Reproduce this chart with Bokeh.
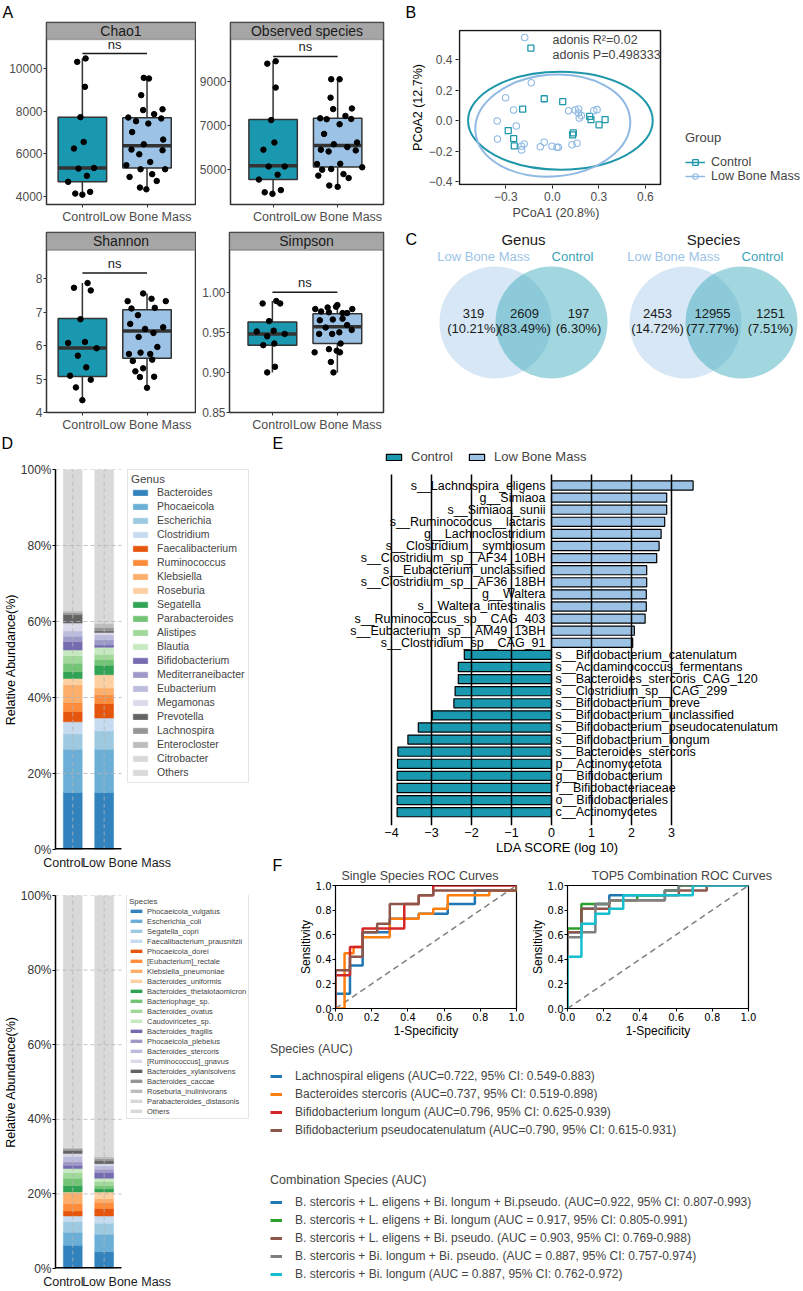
import numpy as np
from bokeh.plotting import figure
from bokeh.models import (Range1d, FixedTicker, Label, BoxAnnotation, Legend,
                          LegendItem, ColumnDataSource, Title)
from bokeh.layouts import row, column
from bokeh.core.properties import value
from bokeh.embed import file_html
from bokeh.resources import INLINE

FONT = "Liberation Sans"
MPLF = "DejaVu Sans"
C_CTRL = "#1a98b0"
C_LBM = "#9cc3e6"
DARK = "#333333"
TICKC = "#4d4d4d"

groups = ["Control", "Low Bone Mass"]
panel_letters = ["A", "B", "C", "D", "E", "F"]

# ---------------- A : alpha diversity ----------------
chao1_ctrl = [10310, 10470, 9140, 7720, 6250, 6560, 5310, 5340, 4970, 4690, 4140, 4090, 4220]
chao1_ctrl_jit = [-0.08, 0.05, 0.04, -0.03, -0.13, 0.02, -0.06, 0.18, 0.07, -0.22, -0.11, 0.0, 0.12]
chao1_lbm = [9560, 9530, 8750, 8050, 8090, 7860, 7700, 7530, 7420, 7660, 7020, 6450, 6670, 6200,
             5980, 6170, 5470, 5620, 5280, 5280, 4920, 5050, 4730, 4420, 4340]
chao1_lbm_jit = [-0.05, 0.03, -0.09, -0.06, 0.24, 0.11, -0.29, -0.17, 0.02, 0.22, -0.23, -0.05, 0.25,
                 -0.24, -0.12, 0.24, -0.32, 0.05, -0.10, 0.28, -0.27, 0.08, 0.15, -0.11, -0.01]
chao1_box_ctrl = [4090, 4690, 5340, 7720, 10470]
chao1_box_lbm = [4340, 5340, 6380, 7690, 9560]

obs_ctrl = [9830, 9940, 8740, 7260, 5910, 6240, 5150, 5150, 4770, 4550, 3970, 3900, 4070]
obs_ctrl_jit = [-0.09, 0.04, 0.04, -0.03, -0.15, 0.02, -0.07, 0.18, 0.07, -0.22, -0.13, -0.01, 0.12]
obs_lbm = [9120, 9120, 8280, 7760, 7790, 7340, 7300, 7450, 7070, 7310, 6630, 6160, 6240, 5910,
           5830, 6030, 5880, 5260, 5270, 5110, 5000, 5030, 4800, 4620, 4730, 4280, 4220]
obs_lbm_jit = [-0.10, 0.03, -0.11, -0.07, 0.22, -0.27, -0.17, 0.12, 0.03, 0.21, -0.21, -0.06, 0.30,
               -0.26, -0.14, 0.15, 0.28, -0.32, 0.04, 0.38, -0.24, -0.10, 0.09, 0.17, -0.30, -0.13, 0.0]
obs_box_ctrl = [3900, 4550, 5180, 7290, 9940]
obs_box_lbm = [4220, 5120, 6100, 7340, 9120]

shan_ctrl = [7.73, 7.87, 7.65, 6.79, 6.08, 6.11, 5.70, 5.92, 5.35, 5.10, 4.98, 4.75, 4.37]
shan_ctrl_jit = [-0.13, 0.08, 0.13, -0.03, -0.22, 0.04, -0.07, 0.22, 0.06, -0.19, 0.13, -0.10, 0.0]
shan_lbm = [7.33, 7.56, 7.40, 7.33, 7.11, 6.91, 7.13, 6.65, 6.50, 6.38, 6.55, 6.26, 5.96, 5.75,
            5.79, 5.75, 5.54, 5.58, 5.32, 5.23, 5.06, 5.07, 4.74]
shan_lbm_jit = [-0.30, -0.06, 0.07, 0.29, -0.24, -0.14, 0.12, -0.26, -0.03, 0.10, 0.25, -0.13, 0.16,
                -0.28, -0.10, 0.05, -0.22, 0.08, -0.06, -0.18, -0.11, 0.11, 0.0]
shan_box_ctrl = [4.37, 5.08, 5.93, 6.81, 7.87]
shan_box_lbm = [4.74, 5.62, 6.44, 7.07, 7.56]

simp_ctrl = [0.986, 0.989, 0.986, 0.964, 0.951, 0.952, 0.945, 0.948, 0.934, 0.936, 0.907, 0.900]
simp_ctrl_jit = [-0.15, 0.06, 0.12, -0.05, -0.24, 0.02, -0.08, 0.19, -0.14, 0.03, 0.04, -0.08]
simp_lbm = [0.979, 0.976, 0.975, 0.984, 0.981, 0.982, 0.974, 0.974, 0.979, 0.965, 0.966, 0.967,
            0.956, 0.959, 0.948, 0.948, 0.950, 0.953, 0.936, 0.925, 0.929, 0.927, 0.925, 0.913, 0.900]
simp_lbm_jit = [-0.34, -0.25, -0.13, 0.0, -0.15, -0.02, 0.08, 0.15, 0.23, -0.27, -0.07, 0.08, -0.18,
                0.15, -0.08, -0.28, 0.03, 0.22, 0.05, -0.35, -0.13, -0.01, 0.04, -0.10, -0.06]
simp_box_ctrl = [0.900, 0.934, 0.948, 0.963, 0.989]
simp_box_lbm = [0.900, 0.936, 0.957, 0.973, 0.984]

chao1_ticks = [4000, 6000, 8000, 10000]
obs_ticks = [5000, 7000, 9000]
shan_ticks = [4, 5, 6, 7, 8]
simp_ticks = [0.85, 0.90, 0.95, 1.00]
chao1_ylim = [3628, 11362]
obs_ylim = [3415, 10934]
shan_ylim = [4.0, 8.853]
simp_ylim = [0.85, 1.0524]
sig_y = [10700, 10160, 8.17, 1.000]
sig_label = "ns"

# ---------------- B : PCoA ----------------
pcoa_ctrl_x = [-0.138, -0.052, 0.067, -0.191, 0.241, 0.249, 0.340, 0.301, -0.284, 0.135, 0.131, -0.249, -0.245]
pcoa_ctrl_y = [0.474, 0.143, 0.124, 0.076, 0.028, 0.007, 0.007, -0.028, -0.065, -0.080, -0.093, -0.117, -0.165]
pcoa_lbm_x = [-0.178, -0.135, -0.301, -0.249, -0.355, -0.232, -0.353, -0.181, -0.198, -0.198, -0.077,
              -0.052, -0.002, 0.030, 0.039, 0.127, 0.159, 0.105, 0.148, 0.170, 0.168, 0.174, 0.187, 0.267, 0.288]
pcoa_lbm_y = [0.543, 0.248, 0.150, 0.070, -0.002, -0.035, -0.120, -0.152, -0.167, -0.191, -0.170,
              -0.141, -0.167, -0.174, -0.174, -0.157, -0.148, 0.065, 0.070, 0.076, 0.050, 0.017, 0.033, 0.065, 0.072]
ell_cx = [0.052, 0.003]
ell_cy = [0.0, -0.032]
ell_w = [1.19, 1.0]
ell_h = [0.64, 0.665]
ell_angle = [0.0, 0.08]
pcoa_xlim = [-0.598, 0.697]
pcoa_ylim = [-0.417, 0.589]
pcoa_var = [20.8, 12.7]
adonis_r2 = 0.02
adonis_p = 0.498333

# ---------------- C : Venn ----------------
venn_titles = ["Genus", "Species"]
venn_sets = ["Low Bone Mass", "Control"]
genus_counts = [319, 2609, 197]
species_counts = [2453, 12955, 1251]

# ---------------- D : composition ----------------
genus_names = ["Bacteroides", "Phocaeicola", "Escherichia", "Clostridium", "Faecalibacterium",
               "Ruminococcus", "Klebsiella", "Roseburia", "Segatella", "Parabacteroides", "Alistipes",
               "Blautia", "Bifidobacterium", "Mediterraneibacter", "Eubacterium", "Megamonas",
               "Prevotella", "Lachnospira", "Enterocloster", "Citrobacter", "Others"]
genus_ctrl = [15.0, 11.4, 4.0, 3.2, 2.7, 2.4, 4.6, 1.7, 1.8, 2.2, 2.0, 1.5, 2.2, 1.4, 1.4, 2.1,
              2.2, 0.5, 0.5, 0.2, 37.0]
genus_lbm = [15.0, 11.4, 4.8, 3.4, 3.8, 2.3, 1.8, 3.5, 2.5, 1.5, 1.4, 1.8, 0.6, 1.4, 1.3, 0.6,
             0.4, 0.9, 1.1, 0.2, 40.3]
species_names = ["Phocaeicola_vulgatus", "Escherichia_coli", "Segatella_copri",
                 "Faecalibacterium_prausnitzii", "Phocaeicola_dorei", "[Eubacterium]_rectale",
                 "Klebsiella_pneumoniae", "Bacteroides_uniformis", "Bacteroides_thetaiotaomicron",
                 "Bacteriophage_sp.", "Bacteroides_ovatus", "Caudoviricetes_sp.", "Bacteroides_fragilis",
                 "Phocaeicola_plebeius", "Bacteroides_stercoris", "[Ruminococcus]_gnavus",
                 "Bacteroides_xylanisolvens", "Bacteroides_caccae", "Roseburia_inulinivorans",
                 "Parabacteroides_distasonis", "Others"]
species_ctrl = [6.2, 3.5, 2.9, 1.5, 1.3, 2.0, 2.9, 0.2, 1.7, 2.0, 1.5, 1.1, 0.9, 0.9, 1.5, 0.7,
                0.8, 0.5, 0.2, 0.2, 67.5]
species_lbm = [4.5, 4.7, 2.9, 2.0, 2.0, 1.6, 1.0, 1.8, 0.9, 0.8, 1.1, 0.9, 1.5, 0.9, 0.9, 0.6,
               0.7, 0.6, 0.6, 0.1, 69.9]
pct_ticks = [0, 20, 40, 60, 80, 100]
bar_x = [0, 1]
bar_label_x = [-0.30, 1.716]
tab20c = ["#3182bd", "#6baed6", "#9ecae1", "#c6dbef", "#e6550d", "#fd8d3c", "#fdae6b", "#fdd0a2",
          "#31a354", "#74c476", "#a1d99b", "#c7e9c0", "#756bb1", "#9e9ac8", "#bcbddc", "#dadaeb",
          "#636363", "#969696", "#bdbdbd", "#d9d9d9", "#d9d9d9"]

# ---------------- E : LEfSe ----------------
lda_names = ["s__Lachnospira_eligens", "g__Simiaoa", "s__Simiaoa_sunii", "s__Ruminococcus__lactaris",
             "g__Lachnoclostridium", "s__Clostridium__symbiosum", "s__Clostridium_sp__AF34_10BH",
             "s__Eubacterium_unclassified", "s__Clostridium_sp__AF36_18BH", "g__Waltera",
             "s__Waltera_intestinalis", "s__Ruminococcus_sp__CAG_403", "s__Eubacterium_sp__AM49_13BH",
             "s__Clostridium_sp__CAG_91", "s__Bifidobacterium_catenulatum", "s__Acidaminococcus_fermentans",
             "s__Bacteroides_stercoris_CAG_120", "s__Clostridium_sp__CAG_299", "s__Bifidobacterium_breve",
             "s__Bifidobacterium_unclassified", "s__Bifidobacterium_pseudocatenulatum",
             "s__Bifidobacterium_longum", "s__Bacteroides_stercoris", "p__Actinomycetota",
             "g__Bifidobacterium", "f__Bifidobacteriaceae", "o__Bifidobacteriales", "c__Actinomycetes"]
lda_scores = [3.54, 2.88, 2.88, 2.83, 2.74, 2.69, 2.63, 2.38, 2.38, 2.37, 2.37, 2.34, 2.07, 2.03,
              -2.18, -2.33, -2.33, -2.41, -2.44, -2.98, -3.33, -3.59, -3.84, -3.85, -3.86, -3.86, -3.86, -3.86]
lda_ticks = [-4, -3, -2, -1, 0, 1, 2, 3]

# ---------------- F : ROC ----------------
single_names = ["Lachnospiral eligens", "Bacteroides stercoris", "Bifidobacterium longum",
                "Bifidobacterium pseudocatenulatum"]
single_auc = [0.722, 0.737, 0.796, 0.790]
single_ci_lo = [0.549, 0.519, 0.625, 0.615]
single_ci_hi = [0.883, 0.898, 0.939, 0.931]
single_colors = ["#1f77b4", "#ff7f0e", "#d62728", "#8c564b"]
single_fpr = [
    [0, 0, 0.08, 0.08, 0.15, 0.15, 0.3, 0.3, 0.46, 0.46, 0.62, 0.62, 0.77, 0.77, 1, 1],
    [0, 0.05, 0.05, 0.1, 0.1, 0.15, 0.15, 0.3, 0.3, 0.46, 0.46, 0.54, 0.54, 0.62, 0.62, 0.85, 0.85, 1, 1],
    [0, 0, 0.08, 0.08, 0.15, 0.15, 0.38, 0.38, 0.46, 0.46, 0.54, 0.54, 1],
    [0, 0, 0.08, 0.08, 0.15, 0.15, 0.23, 0.23, 0.3, 0.3, 0.46, 0.46, 0.54, 0.54, 1, 1]]
single_tpr = [
    [0, 0.12, 0.12, 0.35, 0.35, 0.62, 0.62, 0.73, 0.73, 0.77, 0.77, 0.85, 0.85, 0.96, 0.96, 1],
    [0, 0, 0.45, 0.45, 0.5, 0.5, 0.58, 0.58, 0.73, 0.73, 0.77, 0.77, 0.81, 0.81, 0.92, 0.92, 0.96, 0.96, 1],
    [0, 0.27, 0.27, 0.5, 0.5, 0.65, 0.65, 0.85, 0.85, 0.92, 0.92, 1, 1],
    [0, 0.31, 0.31, 0.42, 0.42, 0.62, 0.62, 0.69, 0.69, 0.85, 0.85, 0.92, 0.92, 0.96, 0.96, 1]]
comb_names = ["B. stercoris + L. eligens + Bi. longum + Bi.pseudo.", "B. stercoris + L. eligens + Bi. longum",
              "B. stercoris + L. eligens + Bi. pseudo.", "B. stercoris + Bi. longum + Bi. pseudo.",
              "B. stercoris + Bi. longum"]
comb_auc = [0.922, 0.917, 0.903, 0.887, 0.887]
comb_ci_lo = [0.807, 0.805, 0.769, 0.757, 0.762]
comb_ci_hi = [0.993, 0.991, 0.988, 0.974, 0.972]
comb_sep = ["=", " = ", " = ", " = ", " = "]
comb_colors = ["#1f77b4", "#2ca02c", "#8c564b", "#7f7f7f", "#17becf"]
comb_fpr = [
    [0, 0, 0.077, 0.077, 0.154, 0.154, 0.231, 0.231, 0.538, 0.538, 0.615, 0.615, 1],
    [0, 0, 0.077, 0.077, 0.231, 0.231, 0.385, 0.385, 0.538, 0.538, 0.615, 0.615, 1],
    [0, 0, 0.077, 0.077, 0.231, 0.231, 0.538, 0.538, 0.615, 0.615, 0.769, 0.769, 1],
    [0, 0, 0.077, 0.077, 0.154, 0.154, 0.231, 0.231, 0.538, 0.538, 0.615, 0.615, 1],
    [0, 0, 0.077, 0.077, 0.154, 0.154, 0.231, 0.231, 0.308, 0.308, 0.692, 0.692, 1]]
comb_tpr = [
    [0, 0.62, 0.62, 0.81, 0.81, 0.85, 0.85, 0.92, 0.92, 0.96, 0.96, 1, 1],
    [0, 0.65, 0.65, 0.85, 0.85, 0.88, 0.88, 0.92, 0.92, 0.96, 0.96, 1, 1],
    [0, 0.62, 0.62, 0.81, 0.81, 0.88, 0.88, 0.92, 0.92, 0.96, 0.96, 1, 1],
    [0, 0.58, 0.58, 0.62, 0.62, 0.85, 0.85, 0.88, 0.88, 0.96, 0.96, 1, 1],
    [0, 0.42, 0.42, 0.69, 0.69, 0.77, 0.77, 0.81, 0.81, 0.92, 0.92, 1, 1]]
roc_ticks = [0.0, 0.2, 0.4, 0.6, 0.8, 1.0]


# ================= helpers =================
def fig(w, h, xr, yr, bl=0, br=0, bt=0, bb=0, xaxis=True, yaxis=True):
    p = figure(width=w, height=h, x_range=xr, y_range=yr, output_backend="svg",
               toolbar_location=None, min_border_left=bl, min_border_right=br,
               min_border_top=bt, min_border_bottom=bb,
               x_axis_location="below" if xaxis else None,
               y_axis_location="left" if yaxis else None)
    p.grid.visible = False
    p.outline_line_color = None
    return p


def letters(p, xs, ys, txts):
    p.text(x=xs, y=ys, text=txts, text_align="left", text_baseline="middle",
           text_font=value(FONT), text_font_size="16px", text_color="black")


def style_axes(p, font=FONT, size="12px", color=TICKC, tick_out=3, standoff=2):
    for ax in p.axis:
        ax.major_label_text_font = font
        ax.major_label_text_font_size = size
        ax.major_label_text_color = color
        ax.major_tick_out = tick_out
        ax.major_tick_in = 0
        ax.minor_tick_line_color = None
        ax.major_label_standoff = standoff
        ax.axis_label_text_font = FONT
        ax.axis_label_text_font_style = "normal"
        ax.axis_label_text_color = "black"


def box_panel(name, vc, jc, vl, jl, bc, bl_, ylim, ticks, tick_fmt, sig, xr, w, h, mb, strip_px, panel_px):
    lo, hi = ylim
    top = hi + strip_px * (hi - lo) / panel_px
    p = fig(w, h, Range1d(*xr), Range1d(lo, top), *mb)
    p.outline_line_color = DARK
    p.outline_line_width = 1.5
    p.add_layout(BoxAnnotation(left=xr[0], right=xr[1], bottom=hi, top=top, fill_color="#a6a6a6",
                               fill_alpha=1.0, line_color=DARK, line_width=1.5))
    p.add_layout(Label(x=(xr[0] + xr[1]) / 2, y=(hi + top) / 2, text=name, text_align="center",
                       text_baseline="middle", text_font=FONT, text_font_size="14px",
                       text_color="#1a1a1a"))
    for i, (vals, jit, st, col) in enumerate([(vc, jc, bc, C_CTRL), (vl, jl, bl_, C_LBM)]):
        x = i + 1
        lo_w, q1, med, q3, hi_w = st
        p.segment(x0=[x], y0=[lo_w], x1=[x], y1=[hi_w], line_color=DARK, line_width=1.5)
        p.vbar(x=[x], width=0.75, bottom=[q1], top=[q3], fill_color=col, line_color=DARK, line_width=1.5)
        p.segment(x0=[x - 0.375], y0=[med], x1=[x + 0.375], y1=[med], line_color=DARK, line_width=3.5)
        p.scatter(x=[x + j for j in jit], y=vals, size=5.5, color="black")
    p.segment(x0=[1], y0=[sig], x1=[2], y1=[sig], line_color="#1a1a1a", line_width=1.5)
    p.text(x=[1.5], y=[sig], text=[sig_label], text_align="center", text_baseline="bottom",
           y_offset=-2, text_font=value(FONT), text_font_size="13px", text_color="#1a1a1a")
    style_axes(p, size="12px", standoff=1)
    p.xaxis.ticker = FixedTicker(ticks=[1, 2])
    p.xaxis.major_label_overrides = {1: groups[0], 2: groups[1]}
    p.xaxis.major_label_text_font_size = "12.5px"
    p.xaxis.major_label_standoff = 2
    p.yaxis.ticker = FixedTicker(ticks=ticks)
    p.yaxis.major_label_overrides = {t: tick_fmt(t) for t in ticks}
    p.axis.axis_line_color = None
    p.axis.major_tick_line_color = DARK
    return p


# ================= top strip (letters A, B) =================
pS1 = fig(803, 20, Range1d(0, 803), Range1d(20, 0), xaxis=False, yaxis=False)
letters(pS1, [2, 405], [12, 12], panel_letters[0:2])

# ================= A =================
XL = (0.445, 2.75)
XR = (0.34, 2.71)
pA1 = box_panel("Chao1", chao1_ctrl, chao1_ctrl_jit, chao1_lbm, chao1_lbm_jit, chao1_box_ctrl,
                chao1_box_lbm, chao1_ylim, chao1_ticks, lambda t: f"{t}", sig_y[0], XL, 196, 206,
                (46, 1, 2, 21), 17, 166)
pA2 = box_panel("Observed species", obs_ctrl, obs_ctrl_jit, obs_lbm, obs_lbm_jit, obs_box_ctrl,
                obs_box_lbm, obs_ylim, obs_ticks, lambda t: f"{t}", sig_y[1], XR, 196, 206,
                (33, 9, 2, 21), 17, 166)
pA3 = box_panel("Shannon", shan_ctrl, shan_ctrl_jit, shan_lbm, shan_lbm_jit, shan_box_ctrl,
                shan_box_lbm, shan_ylim, shan_ticks, lambda t: f"{t}", sig_y[2], XL, 196, 208,
                (46, 1, 6, 19), 18, 165)
pA4 = box_panel("Simpson", simp_ctrl, simp_ctrl_jit, simp_lbm, simp_lbm_jit, simp_box_ctrl,
                simp_box_lbm, simp_ylim, simp_ticks, lambda t: f"{t:.2f}", sig_y[3], XR, 196, 208,
                (33, 9, 6, 19), 18, 165)

# ================= B =================
CB_CTRL = "#1f97aa"
CB_LBM = "#8fb9e3"
bx_per_px = (pcoa_xlim[1] - pcoa_xlim[0]) / 201
by_per_px = (pcoa_ylim[1] - pcoa_ylim[0]) / 154
bxr = Range1d(pcoa_xlim[0] - bx_per_px, pcoa_xlim[0] - bx_per_px + 345 * bx_per_px)
byr = Range1d(pcoa_ylim[0] - by_per_px, pcoa_ylim[1] + by_per_px)
pB = fig(411, 202, bxr, byr, 66, 0, 9, 37)
pB.quad(left=[pcoa_xlim[0]], right=[pcoa_xlim[1]], bottom=[pcoa_ylim[0]], top=[pcoa_ylim[1]],
        fill_color=None, line_color="#1a1a1a", line_width=1.5)
pB.ellipse(x=ell_cx, y=ell_cy, width=ell_w, height=ell_h, angle=ell_angle, fill_color=None,
           line_color=[CB_CTRL, CB_LBM], line_width=2)
sq = pB.scatter(x=pcoa_ctrl_x, y=pcoa_ctrl_y, marker="square", size=6, fill_color=None,
                line_color=CB_CTRL, line_width=1.3)
ci = pB.scatter(x=pcoa_lbm_x, y=pcoa_lbm_y, marker="circle", size=6.5, fill_color=None,
                line_color=CB_LBM, line_width=1.1)
# legend key lines (kept outside the visible range)
lq = pB.line(x=[5, 6], y=[5, 5], line_color=CB_CTRL, line_width=1.5)
lc = pB.line(x=[5, 6], y=[5, 5], line_color=CB_LBM, line_width=1.5)
style_axes(pB, size="12px", standoff=3)
pB.axis.axis_line_color = None
pB.axis.major_tick_line_color = "#1a1a1a"
bx_ticks = [-0.3, 0.0, 0.3, 0.6]
by_ticks = [-0.4, -0.2, 0.0, 0.2, 0.4]
pB.xaxis.ticker = FixedTicker(ticks=bx_ticks)
pB.yaxis.ticker = FixedTicker(ticks=by_ticks)
pB.xaxis.major_label_overrides = {t: f"{t:.1f}".replace("-", "\u2212") for t in bx_ticks}
pB.yaxis.major_label_overrides = {t: f"{t:.1f}".replace("-", "\u2212") for t in by_ticks}
pB.yaxis.axis_label = f"PCoA2 ({pcoa_var[1]}%)"
pB.yaxis.axis_label_text_font_size = "12.5px"
pB.yaxis.axis_label_standoff = 1
pB.add_layout(Title(text=f"PCoA1 ({pcoa_var[0]}%)", align="left", offset=54, standoff=1,
                    text_font=FONT, text_font_size="12.5px", text_font_style="normal"), "below")
pB.add_layout(Label(x=94, y=146, x_units="screen", y_units="screen", text=f"adonis R\u00b2={adonis_r2}",
                    text_font=FONT, text_font_size="12.5px", text_baseline="middle"))
pB.add_layout(Label(x=94, y=131, x_units="screen", y_units="screen", text=f"adonis P={adonis_p}",
                    text_font=FONT, text_font_size="12.5px", text_baseline="middle"))
legB = Legend(items=[LegendItem(label=groups[0], renderers=[lq, sq]),
                     LegendItem(label=groups[1], renderers=[lc, ci])],
              title="Group", location=(227, 2), padding=0, spacing=0, margin=0,
              glyph_width=20, glyph_height=14, label_height=14, label_standoff=6,
              title_standoff=10, border_line_color=None, background_fill_alpha=0,
              label_text_font=FONT, label_text_font_size="12.5px",
              title_text_font=FONT, title_text_font_size="13px", title_text_font_style="normal")
pB.add_layout(legB)

# ================= C =================
pC = fig(411, 212, Range1d(392, 803), Range1d(434, 222), xaxis=False, yaxis=False)
for k, (ttl, counts) in enumerate(zip(venn_titles, [genus_counts, species_counts])):
    off = 190 * k
    cx = [495 + off, 551 + off]
    pC.circle(x=cx, y=[322, 322], radius=56, fill_color=["#9fc5e8", "#30a6b8"],
              fill_alpha=[0.42, 0.45], line_color=None)
    total = sum(counts)
    txt_x = [473, 524, 578] if k == 0 else [657, 712, 770]
    pC.text(x=txt_x, y=[313] * 3, text=[str(c) for c in counts], text_align="center",
            text_baseline="middle", text_font=value(FONT), text_font_size="13px", text_color="#1a1a1a")
    pC.text(x=txt_x, y=[328] * 3, text=[f"({100 * c / total:.2f}%)" for c in counts],
            text_align="center", text_baseline="middle", text_font=value(FONT),
            text_font_size="13px", text_color="#1a1a1a")
    pC.text(x=[523 + off], y=[239], text=[ttl], text_align="center", text_baseline="middle",
            text_font=value(FONT), text_font_size="15px", text_color="#1a1a1a")
    pC.text(x=[483 + off, 572 + off], y=[256, 256], text=venn_sets, text_align="center",
            text_baseline="middle", text_font=value(FONT), text_font_size="13px",
            text_color=["#9dc3e6", "#3aa3b6"])
letters(pC, [405], [238.5], [panel_letters[2]])

# ================= D/E letter strip =================
pS2 = fig(803, 16, Range1d(0, 803), Range1d(450, 434), xaxis=False, yaxis=False)
letters(pS2, [1, 272], [442.5, 442.5], panel_letters[3:5])


# ================= D =================
def stack_panel(names, vc, vl, h, mb, title, lfont, tfont, lh, gw, gh, pad, lloc, lstand):
    data = {"x": bar_x}
    for n, a, b in zip(names, vc, vl):
        data[n] = [a, b]
    xr = Range1d(-0.55, -0.55 + 211 / 32)
    p = fig(265, h, xr, Range1d(0, 100), *mb)
    rs = p.vbar_stack(names, x="x", width=0.6, color=tab20c, source=ColumnDataSource(data), line_width=0.5)
    # dashed grid (limited to the bar area) and bottom spine
    gy = pct_ticks[1:]
    p.segment(x0=[-0.55] * len(gy), y0=gy, x1=[1.55] * len(gy), y1=gy, line_color="#b4b4b4",
              line_dash="4 3", line_width=0.8)
    p.segment(x0=bar_x, y0=[0, 0], x1=bar_x, y1=[100, 100], line_color="#b4b4b4",
              line_dash="4 3", line_width=0.8)
    p.segment(x0=[-0.55], y0=[0], x1=[1.55], y1=[0], line_color="black", line_width=3)
    style_axes(p, size="12px", color="#333333", tick_out=3, standoff=1)
    p.yaxis.ticker = FixedTicker(ticks=pct_ticks)
    p.yaxis.major_label_overrides = {t: f"{t}%" for t in pct_ticks}
    p.yaxis.axis_line_color = "black"
    p.yaxis.axis_line_width = 1.5
    p.yaxis.axis_label = "Relative Abundance(%)"
    p.yaxis.axis_label_text_font_size = "12.5px"
    p.yaxis.axis_label_standoff = 0
    p.xaxis.ticker = FixedTicker(ticks=bar_label_x)
    p.xaxis.major_label_overrides = {bar_label_x[0]: groups[0], bar_label_x[1]: groups[1]}
    p.xaxis.axis_line_color = None
    p.xaxis.major_tick_line_color = None
    p.xaxis.major_label_text_font_size = "12.5px"
    p.xaxis.major_label_text_color = "#1a1a1a"
    p.xaxis.major_label_standoff = 3
    leg = Legend(items=[LegendItem(label=n, renderers=[r]) for n, r in zip(names, rs)],
                 title=title, location=lloc, padding=pad, spacing=0, margin=0,
                 glyph_width=gw, glyph_height=gh, label_height=lh, label_standoff=lstand,
                 title_standoff=0, border_line_color="#cccccc", border_line_width=1,
                 background_fill_color="white", background_fill_alpha=1,
                 label_text_font=FONT, label_text_font_size=lfont,
                 title_text_font=FONT, title_text_font_size=tfont, title_text_font_style="normal")
    p.add_layout(leg)
    return p


pDt = stack_panel(genus_names, genus_ctrl, genus_lbm, 422, (51, 3, 19, 23), "Genus", "10.5px", "11.5px",
                  14, 18, 7, 3, (72, 66), 8)
pDb = stack_panel(species_names, species_ctrl, species_lbm, 419, (51, 3, 23, 17), "Species", "7.5px",
                  "8px", 10, 14, 4, 2, (71, 149), 4)

# ================= E =================
n_lda = len(lda_names)
ys = [-i for i in range(n_lda)]
pE = fig(538, 407, Range1d(-6.0, 6.3), Range1d(-28.1, 2.893), 46, 0, 0, 32, xaxis=True, yaxis=False)
pos = [i for i in range(n_lda) if lda_scores[i] > 0]
neg = [i for i in range(n_lda) if lda_scores[i] < 0]
rE_l = pE.hbar(y=[ys[i] for i in pos], left=0, right=[lda_scores[i] for i in pos], height=0.75,
               fill_color=C_LBM, line_color="black", line_width=1.2)
rE_c = pE.hbar(y=[ys[i] for i in neg], left=[lda_scores[i] for i in neg], right=0, height=0.75,
               fill_color=C_CTRL, line_color="black", line_width=1.2)
pE.text(x=[-0.15] * len(pos), y=[ys[i] for i in pos], text=[lda_names[i] for i in pos],
        text_align="right", text_baseline="middle", text_font=value(FONT), text_font_size="12.5px",
        text_color="black")
pE.text(x=[0.1] * len(neg), y=[ys[i] for i in neg], text=[lda_names[i] for i in neg],
        text_align="left", text_baseline="middle", text_font=value(FONT), text_font_size="12.5px",
        text_color="black")
pE.segment(x0=lda_ticks, y0=[0.909] * len(lda_ticks), x1=lda_ticks, y1=[-28.1] * len(lda_ticks),
           line_color="black", line_width=1.5)
style_axes(pE, size="12.5px", color="black", tick_out=0, standoff=2)
pE.xaxis.ticker = FixedTicker(ticks=lda_ticks)
pE.xaxis.major_label_overrides = {t: str(t).replace("-", "\u2212") for t in lda_ticks}
pE.xaxis.axis_line_color = None
pE.xaxis.major_tick_line_color = None
pE.xaxis.axis_label = "LDA SCORE (log 10)"
pE.xaxis.axis_label_text_font_size = "13px"
pE.xaxis.axis_label_standoff = 0
legE = Legend(items=[LegendItem(label=groups[0], renderers=[rE_c]),
                     LegendItem(label=groups[1], renderers=[rE_l])],
              orientation="horizontal", location=(73, 361), padding=0, spacing=14, margin=0,
              glyph_width=19, glyph_height=8, label_height=14, label_standoff=8,
              border_line_color=None, background_fill_alpha=0,
              label_text_font=FONT, label_text_font_size="13px")
pE.add_layout(legE)


# ================= F =================
def roc_panel(w, mb, fprs, tprs, colors, title, title_off):
    p = fig(w, 183, Range1d(0, 1), Range1d(0, 1), *mb)
    p.outline_line_color = "black"
    p.outline_line_width = 1.2
    p.line(x=[0, 1], y=[0, 1], line_color="#808080", line_dash="6 4", line_width=1.5)
    for fx, fy, c in zip(fprs, tprs, colors):
        p.line(x=fx, y=fy, line_color=c, line_width=2.5)
    style_axes(p, font=MPLF, size="10px", color="black", tick_out=3, standoff=1)
    p.axis.axis_line_color = "black"
    p.axis.major_tick_line_color = "black"
    for ax in (p.xaxis, p.yaxis):
        ax.ticker = FixedTicker(ticks=roc_ticks)
        ax.major_label_overrides = {t: f"{t:.1f}" for t in roc_ticks}
    p.xaxis.axis_label = "1-Specificity"
    p.yaxis.axis_label = "Sensitivity"
    p.axis.axis_label_text_font_size = "12px"
    p.axis.axis_label_standoff = 0
    p.title.text = title
    p.title.align = "left"
    p.title.offset = title_off
    p.title.standoff = 6
    p.title.text_font = FONT
    p.title.text_font_size = "12.5px"
    p.title.text_font_style = "normal"
    return p


pFx = fig(30, 183, Range1d(265, 295), Range1d(1040, 857), xaxis=False, yaxis=False)
letters(pFx, [272], [865], [panel_letters[5]])
pFl = roc_panel(232, (34, 11, 28, 28), single_fpr, single_tpr, single_colors,
                "Single Species ROC Curves", 6)
pFr = roc_panel(276, (34, 55, 28, 28), comb_fpr, comb_tpr, comb_colors,
                "TOP5 Combination ROC Curves", 24)

pFg = fig(538, 251, Range1d(0, 1), Range1d(0, 1), xaxis=False, yaxis=False)
items1 = []
for nm, a, lo, hi, c in zip(single_names, single_auc, single_ci_lo, single_ci_hi, single_colors):
    r = pFg.line(x=[2, 3], y=[2, 2], line_color=c, line_width=3)
    items1.append(LegendItem(label=f"{nm} (AUC={a:.3f}, 95% CI: {lo:.3f}-{hi:.3f})", renderers=[r]))
items2 = []
for nm, a, lo, hi, sep, c in zip(comb_names, comb_auc, comb_ci_lo, comb_ci_hi, comb_sep, comb_colors):
    r = pFg.line(x=[2, 3], y=[2, 2], line_color=c, line_width=3)
    items2.append(LegendItem(label=f"{nm} (AUC{sep}{a:.3f}, 95% CI: {lo:.3f}-{hi:.3f})", renderers=[r]))
for items, ttl, loc, ts in [(items1, "Species (AUC)", (5, 152), 11),
                            (items2, "Combination Species (AUC)", (5, 8), 6)]:
    lg = Legend(items=items, title=ttl, location=loc, padding=3, spacing=0, margin=0,
                glyph_width=12, glyph_height=18, label_height=18, label_standoff=13,
                title_standoff=ts, border_line_color=None, background_fill_alpha=0,
                label_text_font=FONT, label_text_font_size="12px",
                title_text_font=FONT, title_text_font_size="12.5px", title_text_font_style="normal")
    pFg.add_layout(lg)

# ================= layout =================
top = row(column(row(pA1, pA2), row(pA3, pA4)), column(pB, row(pC)))
bottom = row(column(pDt, pDb), column(pE, row(column(pFx), pFl, pFr), row(pFg)))
layout = column(pS1, top, pS2, bottom)

with open("out.html", "w", encoding="utf-8") as f:
    f.write(file_html(layout, INLINE))
